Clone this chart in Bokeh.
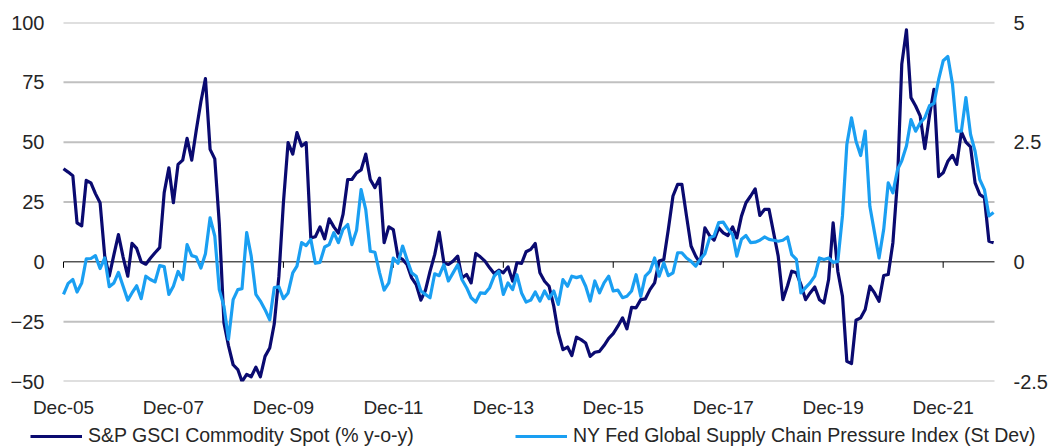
import pandas as pd
from bokeh.plotting import figure
from bokeh.layouts import column
from bokeh.models import (Range1d, LinearAxis, FixedTicker, Legend, LegendItem)
from bokeh.embed import file_html
from bokeh.resources import INLINE

start_month = "2005-12-01"

gsci = [
    38.9, 37.5, 36.0, 16.3, 15.0, 34.0, 33.0, 28.5, 24.7, 2.4,
    -6.0, 3.0, 11.4, 2.0, -6.0, 7.7, 5.6, 0.0, -1.0, 1.5,
    3.8, 5.9, 28.9, 39.3, 24.7, 40.7, 42.5, 51.6, 42.5, 55.0,
    67.0, 76.6, 47.0, 43.0, 16.0, -25.5, -35.0, -43.0, -45.0, -50.0,
    -47.0, -48.0, -44.0, -48.0, -39.5, -36.0, -26.0, -6.0, 24.7, 49.8,
    45.0, 54.0, 48.4, 49.8, 10.0, 10.5, 14.6, 9.6, 18.0, 14.6,
    12.0, 19.8, 34.4, 34.4, 37.2, 38.4, 45.0, 34.4, 31.0, 35.0,
    8.0, 14.6, 13.5, 2.0, 1.0, -1.1, -6.7, -9.5, -16.0, -12.0,
    -4.0, 3.0, 12.4, -0.4, -1.1, 0.3, 2.4, -6.7, -5.3, -8.8,
    3.5, 2.1, 0.3, -2.5, -4.9, -3.5, -4.6, -2.1, -8.1, -0.4,
    -0.7, 4.2, 5.2, 7.7, -4.6, -8.1, -10.2, -18.5, -29.7, -36.7,
    -35.6, -39.2, -31.5, -32.5, -33.9, -39.5, -37.8, -37.4, -35.0, -32.0,
    -30.0, -26.9, -23.4, -28.0, -19.0, -19.2, -15.8, -15.5, -11.6, -8.8,
    0.3, 1.0, 13.5, 27.5, 32.4, 32.4, 19.1, 6.6, 2.4, -0.7,
    14.2, 11.0, 9.1, 14.2, 12.1, 11.0, 14.6, 10.0, 19.1, 24.7,
    27.5, 30.5, 19.4, 21.9, 21.9, 12.0, 2.4, -15.8, -10.0, -3.9,
    -4.6, -9.5, -15.8, -13.0, -10.5, -15.8, -17.2, -7.4, 16.3, -3.9,
    -14.4, -41.6, -42.5, -24.4, -23.4, -19.9, -10.2, -13.0, -16.5, -5.7,
    -5.3, 8.0, 34.4, 82.6, 96.9, 68.6, 65.1, 61.0, 47.3, 61.0,
    72.1, 35.6, 37.2, 42.0, 44.5, 40.7, 54.3, 50.0, 48.0, 33.0,
    28.2, 26.8, 8.6, 8.0,
]

gscpi = [
    -0.68, -0.45, -0.37, -0.63, -0.44, 0.06, 0.07, 0.13, -0.14, 0.08,
    -0.52, -0.44, -0.22, -0.51, -0.80, -0.65, -0.50, -0.77, -0.30, -0.37,
    -0.42, -0.08, -0.10, -0.68, -0.51, -0.20, -0.37, 0.36, 0.13, 0.10,
    -0.13, 0.17, 0.92, 0.54, -0.58, -0.93, -1.62, -0.79, -0.58, -0.56,
    0.61, 0.12, -0.68, -0.82, -1.00, -1.21, -0.54, -0.52, -0.77, -0.65,
    -0.23, -0.09, 0.40, 0.34, 0.47, -0.03, -0.01, 0.31, 0.36, 0.61,
    0.40, 0.68, 0.78, 0.36, 0.66, 1.51, 1.09, 0.22, 0.20, -0.23,
    -0.59, -0.44, 0.08, -0.03, 0.33, 0.05, -0.23, -0.30, -0.61, -0.68,
    -0.75, -0.25, -0.29, -0.06, -0.40, -0.23, -0.06, -0.37, -0.54, -0.75,
    -0.84, -0.65, -0.66, -0.54, -0.30, -0.20, -0.68, -0.44, -0.58, -0.27,
    -0.65, -0.84, -0.80, -0.63, -0.82, -0.61, -0.77, -0.61, -0.89, -0.37,
    -0.51, -0.30, -0.33, -0.30, -0.51, -0.82, -0.40, -0.65, -0.44, -0.30,
    -0.61, -0.59, -0.75, -0.72, -0.61, -0.27, -0.72, -0.30, -0.20, 0.08,
    -0.30, -0.02, -0.29, -0.23, 0.19, 0.19, 0.08, 0.01, -0.09, 0.05,
    0.17, 0.50, 0.54, 0.82, 0.83, 0.68, 0.57, 0.12, 0.47, 0.55,
    0.40, 0.41, 0.45, 0.52, 0.47, 0.45, 0.43, 0.45, 0.52, 0.15,
    0.05, -0.65, -0.54, -0.44, -0.30, 0.08, 0.05, 0.08, -0.01, 0.01,
    0.96, 2.45, 3.01, 2.52, 2.22, 2.73, 1.16, 0.61, 0.08, 0.68,
    1.65, 1.44, 1.93, 2.11, 2.42, 2.97, 2.73, 2.90, 3.01, 3.26,
    3.31, 3.81, 4.20, 4.29, 3.71, 2.73, 2.73, 3.43, 2.66, 2.31,
    1.72, 1.51, 0.96, 1.03,
]

tick_labels = ["Dec-05", "Dec-07", "Dec-09", "Dec-11", "Dec-13",
               "Dec-15", "Dec-17", "Dec-19", "Dec-21"]
left_ticks = [-50, -25, 0, 25, 50, 75, 100]
right_ticks = [-2.5, 0, 2.5, 5]

series_names = ["S&P GSCI Commodity Spot (% y-o-y)",
                "NY Fed Global Supply Chain Pressure Index (St Dev)"]

NAVY = "#0a0a70"
LIGHT = "#1a9ff2"
FONT = "Liberation Sans"
TXT = "#262626"

W = 1062
FL, FR = 30, 1040          # frame edges (px)
PL, PR = 63, 994           # visible plotting area (px)

d1 = pd.date_range(start_month, periods=len(gsci), freq="MS")
d2 = pd.date_range(start_month, periods=len(gscpi), freq="MS")
tick_dates = [pd.to_datetime(t, format="%b-%y") for t in tick_labels]
tick_dates = [pd.Timestamp(t.year, t.month, 1) for t in tick_dates]
tick_ms = [t.value / 1e6 for t in tick_dates]

x0 = d1[0]
x1 = max(d1[-1], d2[-1]) + pd.Timedelta(days=6)
span = x1 - x0
xr = Range1d(x0 - span * ((PL - FL) / (PR - PL)), x1 + span * ((FR - PR) / (PR - PL)))

p = figure(width=W, height=424, x_axis_type="datetime",
           x_range=xr, y_range=Range1d(-50, 100),
           output_backend="svg", toolbar_location=None,
           min_border_left=FL, min_border_right=W - FR,
           min_border_top=22, min_border_bottom=43)
p.outline_line_color = None
p.background_fill_color = "white"
p.border_fill_color = "white"
p.xgrid.visible = False
p.ygrid.visible = False

p.extra_y_ranges = {"right": Range1d(-2.5, 5)}

# horizontal gridlines over the plotting period
grid_vals = [t for t in left_ticks if t != 0]
p.segment(x0=[x0] * len(grid_vals), y0=grid_vals, x1=[x1] * len(grid_vals), y1=grid_vals,
          line_color="#c0c0c0", line_width=2)

# left axis
ya = p.yaxis[0]
ya.ticker = FixedTicker(ticks=left_ticks)
ya.axis_line_color = None
ya.major_tick_line_color = None
ya.minor_tick_line_color = None
ya.major_tick_out = 0
ya.major_tick_in = 0
ya.major_label_standoff = -(PL - FL) + 19
ya.major_label_text_font = FONT
ya.major_label_text_font_size = "20px"
ya.major_label_text_color = TXT

# right axis
ra = LinearAxis(y_range_name="right", ticker=FixedTicker(ticks=right_ticks))
ra.major_label_overrides = {-2.5: "-2.5", 0: "0", 2.5: "2.5", 5: "5"}
ra.axis_line_color = None
ra.major_tick_line_color = None
ra.minor_tick_line_color = None
ra.major_tick_out = 0
ra.major_tick_in = 0
ra.major_label_standoff = -(FR - PR) + 19
ra.major_label_text_font = FONT
ra.major_label_text_font_size = "20px"
ra.major_label_text_color = TXT
p.add_layout(ra, "right")

# bottom axis (labels only)
xa = p.xaxis[0]
xa.ticker = FixedTicker(ticks=tick_ms)
xa.major_label_overrides = {ms: lab for ms, lab in zip(tick_ms, tick_labels)}
xa.axis_line_color = None
xa.major_tick_line_color = None
xa.minor_tick_line_color = None
xa.major_tick_out = 0
xa.major_tick_in = 0
xa.major_label_standoff = 15
xa.major_label_text_font = FONT
xa.major_label_text_font_size = "19px"
xa.major_label_text_color = TXT

# zero axis line with ticks
p.segment(x0=[x0], y0=[0], x1=[x1], y1=[0], line_color="black", line_width=1)
p.segment(x0=tick_dates, y0=[0] * len(tick_dates), x1=tick_dates,
          y1=[-2.5] * len(tick_dates), line_color="black", line_width=1)

p.line(d1, gsci, line_color=NAVY, line_width=3.2, line_join="round")
p.line(d2, gscpi, line_color=LIGHT, line_width=3.2, line_join="round",
       y_range_name="right")

# legend strip (its frame is aligned with the chart frame in the column)
lf = figure(width=W, height=24, x_range=Range1d(0, 1), y_range=Range1d(0, 1),
            output_backend="svg", toolbar_location=None,
            x_axis_location=None, y_axis_location=None,
            min_border=0)
lf.outline_line_color = None
lf.xgrid.visible = False
lf.ygrid.visible = False
lr1 = lf.line(x=[-2, -1], y=[-2, -2], line_color=NAVY, line_width=3.2)
lr2 = lf.line(x=[-2, -1], y=[-2, -2], line_color=LIGHT, line_width=3.2)

for r, name, loc in [(lr1, series_names[0], (0, 1)), (lr2, series_names[1], (485, 1))]:
    lg = Legend(items=[LegendItem(label=name, renderers=[r])], location=loc,
                orientation="horizontal", glyph_width=52, glyph_height=20,
                label_height=20, label_standoff=6, padding=0, margin=0,
                border_line_color=None, background_fill_alpha=0,
                label_text_font=FONT, label_text_font_size="19.5px",
                label_text_color=TXT)
    lf.add_layout(lg, "center")

layout = column(p, lf, spacing=0)
open("out.html", "w").write(file_html(layout, INLINE))
